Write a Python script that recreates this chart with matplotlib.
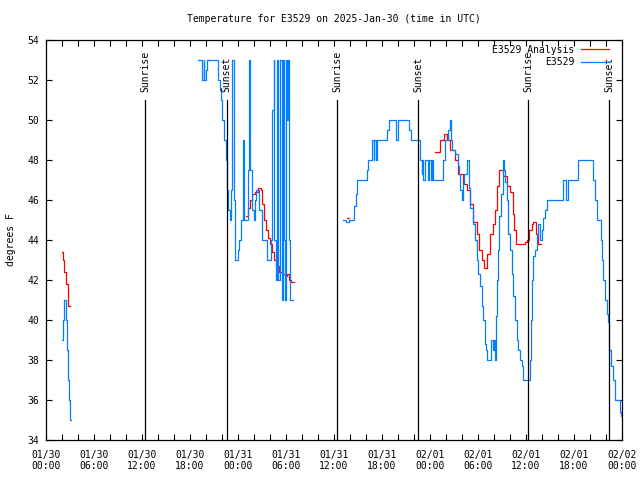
import numpy as np
import matplotlib
matplotlib.use("Agg")
import matplotlib.pyplot as plt
from datetime import datetime, timedelta

# hours since 2025-01-30 00:00 UTC
start = datetime(2025, 1, 30)

# E3529 observations (three pieces with gaps between them)
obs1_t = [2.0, 2.1, 2.3, 2.45, 2.55, 2.65, 2.75, 2.85, 2.95, 3.05, 3.1]
obs1_v = [39, 40, 41, 40.5, 40, 38.5, 37, 36, 35.5, 35, 35]

obs2_t = [19.04, 19.54, 19.69, 19.81, 19.94, 20.12, 21.54, 21.69, 21.87, 22.06,
          22.25, 22.5, 22.62, 22.81, 23.0, 23.12, 23.25, 23.44, 23.62, 23.94,
          24.12, 24.37, 24.62, 24.75, 25.0, 25.25, 25.37, 25.56, 25.75, 25.94,
          26.12, 26.25, 26.62, 27.0, 27.37, 27.62, 27.87, 28.12, 28.31, 28.44,
          28.56, 28.75, 28.87, 29.0, 29.19, 29.31, 29.44, 29.62, 29.75, 29.87,
          30.0, 30.12, 30.25, 30.37, 30.5, 30.87]
obs2_v = [53, 52, 53, 52, 52.5, 53, 52, 51.5, 51, 50,
          49, 48, 46.5, 45.5, 45, 46.5, 53, 46, 43, 43.5,
          44, 45, 49, 45, 45, 47.5, 53, 47.5, 45.5, 45,
          46, 46.5, 45.5, 44, 44, 43, 43, 44, 50.5, 53,
          44, 42, 53, 42, 50, 53, 41, 53, 44, 41,
          53, 50, 53, 44, 41, 41]

obs3_t = [37.16, 37.44, 37.87, 38.54, 38.71, 38.84, 40.16, 40.31, 40.69, 40.81,
          40.94, 41.06, 41.19, 41.41, 42.66, 42.91, 43.75, 44.06, 45.41, 45.59,
          46.69, 46.81, 46.94, 47.06, 47.16, 47.37, 47.69, 47.87, 48.12, 48.25,
          48.41, 49.66, 49.87, 50.19, 50.44, 50.62, 50.81, 51.12, 51.46, 51.66,
          51.81, 51.94, 52.12, 52.31, 52.59, 52.87, 53.0, 53.41, 53.62, 53.84,
          54.04, 54.25, 54.46, 54.66, 54.84, 55.0, 55.16, 55.62, 55.87, 56.0,
          56.12, 56.25, 56.34, 56.54, 56.66, 56.84, 57.09, 57.16, 57.25, 57.37,
          57.59, 57.79, 58.0, 58.21, 58.41, 58.62, 58.84, 59.04, 59.25, 59.46,
          59.66, 60.5, 60.59, 60.75, 60.91, 61.12, 61.34, 61.54, 61.75, 61.96,
          62.16, 62.37, 62.59, 64.59, 65.0, 65.19, 66.54, 68.41, 68.62, 68.91,
          69.34, 69.54, 69.66, 69.87, 70.09, 70.29, 70.41, 70.59, 70.84, 71.12,
          71.75, 71.87]
obs3_v = [45.0, 44.9, 45.0, 45.7, 46.3, 47.0, 47.5, 48.0, 48.5, 49.0,
          48.0, 49.0, 48.0, 49.0, 49.5, 50.0, 49.0, 50.0, 49.5, 49.0,
          48.5, 48.0, 47.3, 48.0, 47.0, 48.0, 47.0, 48.0, 47.0, 48.0,
          47.0, 48.0, 49.0, 49.5, 50.0, 49.0, 48.5, 48.3, 47.7, 47.3,
          46.5, 46.0, 46.8, 47.3, 48.0, 46.6, 45.6, 44.8, 44.0, 43.0,
          42.3, 41.7, 40.7, 40.0, 38.8, 38.5, 38.0, 39.0, 38.5, 39.0,
          38.0, 40.2, 42.0, 43.5, 45.2, 46.3, 47.2, 48.0, 47.5, 46.9,
          46.0, 44.3, 43.5, 42.3, 41.2, 40.0, 39.0, 38.5, 38.0, 37.7,
          37.0, 38.0, 40.0, 42.0, 43.2, 43.5, 44.3, 44.8, 44.0, 44.5,
          45.1, 45.5, 46.0, 47.0, 46.0, 47.0, 48.0, 47.0, 46.0, 45.0,
          44.0, 43.0, 42.0, 41.0, 40.3, 39.9, 38.5, 37.7, 37.0, 36.0,
          35.4, 35.2]

# E3529 analysis
ana1_t = [1.95, 2.1, 2.3, 2.5, 2.7, 2.8, 3.0]
ana1_v = [43.4, 43.0, 42.4, 41.8, 41.2, 40.7, 40.7]

ana2_t = [25.0, 25.25, 25.5, 25.81, 26.12, 26.5, 26.87, 27.06, 27.25, 27.5,
          27.75, 28.0, 28.25, 28.5, 28.75, 29.12, 29.5, 29.87, 30.12, 30.37,
          30.62, 30.94]
ana2_v = [45.2, 45.6, 46.0, 46.3, 46.4, 46.6, 46.5, 45.8, 45.0, 44.5,
          44.1, 43.8, 43.4, 43.0, 42.7, 42.4, 42.3, 42.2, 42.3, 42.0,
          41.9, 41.9]

ana3_t = [37.6, 37.9]
ana3_v = [45.1, 45.1]

ana4_t = [48.62, 48.87, 49.25, 49.75, 50.09, 50.5, 51.12, 51.54, 52.16, 52.59,
          53.0, 53.41, 53.84, 54.16, 54.5, 54.71, 55.09, 55.5, 55.84, 56.12,
          56.41, 56.66, 56.96, 57.16, 57.59, 58.0, 58.34, 58.5, 58.71, 59.25,
          59.87, 60.09, 60.41, 60.71, 60.91, 61.25, 61.54, 61.87]
ana4_v = [48.4, 48.4, 49.0, 49.3, 49.0, 48.5, 48.0, 47.3, 46.8, 46.5,
          45.8, 44.9, 44.3, 43.5, 43.0, 42.6, 43.3, 44.3, 44.8, 45.5,
          46.7, 47.5, 47.5, 47.2, 46.7, 46.4, 45.3, 44.5, 43.8, 43.8,
          43.9, 44.0, 44.5, 44.8, 44.9, 44.3, 43.8, 43.8]

sunrise = [12.4, 36.4, 60.3]
sunset = [22.6, 46.5, 70.4]


def join(pieces):
    t, v = [], []
    for pt, pv in pieces:
        t += list(pt) + [np.nan]
        v += list(pv) + [np.nan]
    return np.array(t), np.array(v)


obs_t, obs_v = join([(obs1_t, obs1_v), (obs2_t, obs2_v), (obs3_t, obs3_v)])
ana_t, ana_v = join([(ana1_t, ana1_v), (ana2_t, ana2_v), (ana3_t, ana3_v), (ana4_t, ana4_v)])

plt.rcParams['font.family'] = 'DejaVu Sans Mono'
plt.rcParams['font.size'] = 7

fig = plt.figure(figsize=(6.4, 4.8), dpi=100)
ax = fig.add_axes([46 / 640, 40 / 480, 576 / 640, 400 / 480])

ax.plot(ana_t, ana_v, color='#ff0000', lw=0.9, label='E3529 Analysis', drawstyle='steps-post')
ax.plot(obs_t, obs_v, color='#0080ff', lw=0.9, label='E3529', drawstyle='steps-post')

for h in sunrise:
    ax.plot([h, h], [34, 51], color='black', lw=0.9)
    ax.text(h, 51.4, 'Sunrise', rotation=90, ha='center', va='bottom')
for h in sunset:
    ax.plot([h, h], [34, 51], color='black', lw=0.9)
    ax.text(h, 51.4, 'Sunset', rotation=90, ha='center', va='bottom')

ax.set_xlim(0, 72)
ax.set_ylim(34, 54)

xt = np.arange(0, 73, 6)
ax.set_xticks(xt)
ax.set_xticklabels([(start + timedelta(hours=int(h))).strftime('%m/%d\n%H:%M') for h in xt])
ax.set_xticks(np.arange(0, 73, 2), minor=True)
ax.set_yticks(np.arange(34, 55, 2))

ax.tick_params(which='both', direction='in', top=True, right=True, length=4, width=0.8)
ax.tick_params(axis='x', pad=7)
ax.tick_params(axis='y', pad=5)
for s in ax.spines.values():
    s.set_linewidth(0.9)

ax.set_ylabel('degrees F', labelpad=8)
ax.set_title('Temperature for E3529 on 2025-Jan-30 (time in UTC)', fontsize=7, pad=13)

ax.legend(loc='upper right', bbox_to_anchor=(1.0 - 8 / 576, 1.0), frameon=False, markerfirst=False,
          handlelength=2.9, handletextpad=0.7, labelspacing=0.25, borderaxespad=0.3,
          borderpad=0.2)

fig.savefig('out.png', dpi=100)
